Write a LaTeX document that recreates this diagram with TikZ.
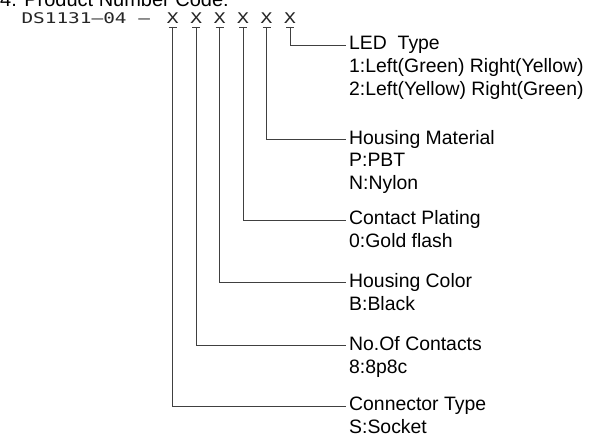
\documentclass[tikz,border=0pt]{standalone}
\usepackage{fontspec}
\usepackage{graphicx}
\setmainfont{Liberation Sans}
\newfontfamily\codemono{DejaVu Sans Mono}
\usetikzlibrary{positioning}
\newcommand{\wide}[1]{\scalebox{1.32}[1]{#1}}
\tikzset{
  code/.style={font=\codemono\fontsize{14.7}{16}\selectfont, text=black!85, inner sep=0pt},
  head/.style={font=\fontsize{19.4}{22.5}\selectfont, anchor=west, inner xsep=3pt, inner ysep=0pt, text height=14pt, text depth=4.5pt},
  detail/.style={font=\fontsize{19.4}{22.5}\selectfont, anchor=north west, align=left, inner xsep=3pt, inner ysep=0pt},
  lead/.style={draw=black!75, line width=0.8pt}
}

\begin{document}
\begin{tikzpicture}[x=1pt, y=-1pt]
\useasboundingbox (0,0) rectangle (597,446);
\node[font=\fontsize{20}{22}\selectfont, anchor=base west, inner sep=0pt] (title) at (0,6.5) {4. Product Number Code:};
% part number
\node[code, anchor=base west] (pre) at (21.3,24) {\wide{DS1131–04 –}};
\node[code, anchor=base] (x0) at (172.7,24) {\wide{X}};
\node[code, anchor=base] (x1) at (196.1,24) {\wide{X}};
\node[code, anchor=base] (x2) at (219.6,24) {\wide{X}};
\node[code, anchor=base] (x3) at (243.0,24) {\wide{X}};
\node[code, anchor=base] (x4) at (266.5,24) {\wide{X}};
\node[code, anchor=base] (x5) at (290.0,24) {\wide{X}};
\foreach \i in {0,...,5}
  \draw[lead] ([xshift=-4pt,yshift=-3pt]x\i.base) -- ([xshift=4pt,yshift=-3pt]x\i.base);
% field labels
\node[head] (lt) at (346,45) {LED\ \ Type};
\node[below=8.5pt of lt.base west, detail] (lt-d) {\rule{0pt}{14pt}1:Left(Green) Right(Yellow)\\2:Left(Yellow) Right(Green)};
\node[head] (hm) at (346,139.3) {Housing Material};
\node[below=8.5pt of hm.base west, detail] (hm-d) {\rule{0pt}{14pt}P:PBT\\N:Nylon};
\node[head] (cp) at (346,220) {Contact Plating};
\node[below=8.5pt of cp.base west, detail] (cp-d) {\rule{0pt}{14pt}0:Gold flash};
\node[head] (hc) at (346,282.7) {Housing Color};
\node[below=8.5pt of hc.base west, detail] (hc-d) {\rule{0pt}{14pt}B:Black};
\node[head] (nc) at (346,345.7) {No.Of Contacts};
\node[below=8.5pt of nc.base west, detail] (nc-d) {\rule{0pt}{14pt}8:8p8c};
\node[head] (ct) at (346,406) {Connector Type};
\node[below=8.5pt of ct.base west, detail] (ct-d) {\rule{0pt}{14pt}S:Socket};
% leaders
\draw[lead] ([yshift=-3pt]x0.base) |- (ct.west);
\draw[lead] ([yshift=-3pt]x1.base) |- (nc.west);
\draw[lead] ([yshift=-3pt]x2.base) |- (hc.west);
\draw[lead] ([yshift=-3pt]x3.base) |- (cp.west);
\draw[lead] ([yshift=-3pt]x4.base) |- (hm.west);
\draw[lead] ([yshift=-3pt]x5.base) |- (lt.west);
\end{tikzpicture}
\end{document}
